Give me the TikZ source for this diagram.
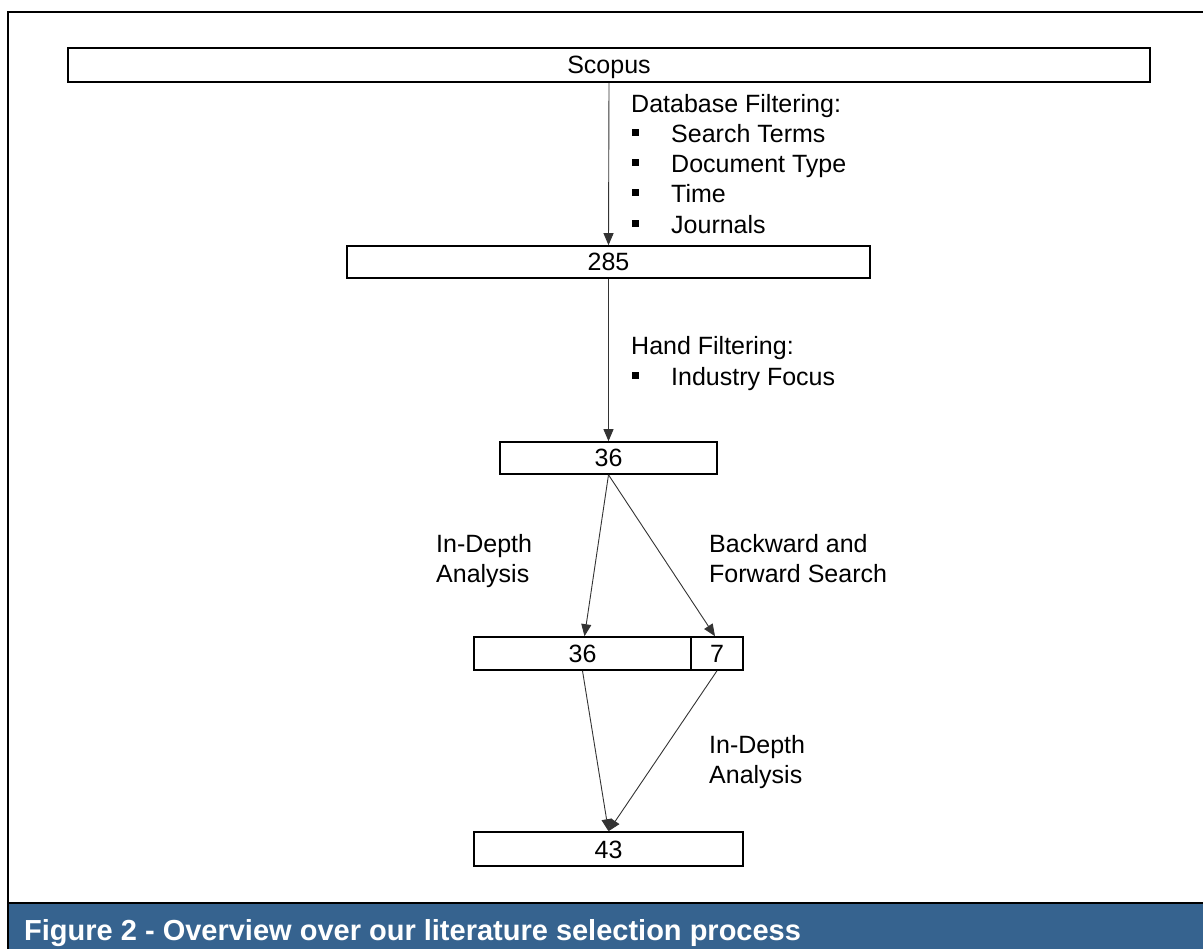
\documentclass[tikz,border=0pt]{standalone}
\usepackage{fontspec}
\setmainfont{Liberation Sans}
\usetikzlibrary{arrows.meta}
\definecolor{capblue}{RGB}{54,99,143}
\newcommand{\bul}{\makebox[39pt][l]{\rule[7pt]{6.5pt}{6.5pt}}}

\begin{document}
\begin{tikzpicture}[x=1pt,y=-1pt,
  box/.style={draw=black,line width=1.6pt,inner sep=0pt,fill=white,text height=18pt,text depth=0pt},
  lab/.style={anchor=base west,inner sep=0pt},
  arr/.style={draw=black!80,line width=0.9pt,-{Triangle[length=12pt,width=10pt]}},
  font=\fontsize{25}{30}\selectfont]
\useasboundingbox (0,0) rectangle (1203,949);
\clip (0,0) rectangle (1203,949);

% frame and caption bar
\fill [capblue] (8,903) rectangle (1210,949);
\draw [line width=2.6pt] (8,960) -- (8,12) -- (1215,12);
\draw [line width=2.6pt] (8,903) -- (1215,903);
\node [lab,text=white,font=\fontsize{29}{30}\selectfont\bfseries] (cap) at (24,940)
  {Figure 2 - Overview over our literature selection process};

% boxes
\node [box,minimum width=1082pt,minimum height=34pt] (scopus) at (609,65) {Scopus};
\node [box,minimum width=523pt,minimum height=32pt] (n285) at (608.5,262) {285};
\node [box,minimum width=217pt,minimum height=32pt] (n36) at (608.5,458) {36};
\node [box,minimum width=217pt,minimum height=33pt] (a36) at (582.5,653.5) {36};
\node [box,minimum width=52pt,minimum height=33pt] (b7) at (717,653.5) {7};
\node [box,minimum width=269pt,minimum height=34pt] (n43) at (608.5,849) {43};

% connectors
\draw [arr] (scopus.south) -- (n285.north);
\draw [arr] (n285.south) -- (n36.north);
\draw [arr] (n36.south) -- ([xshift=2pt]a36.north);
\draw [arr] (n36.south) -- ([xshift=-2pt]b7.north);
\draw [arr] (a36.south) -- (n43.north);
\draw [arr] (b7.south) -- (n43.north);

% labels
\node [lab] (db1) at (631,113) {Database Filtering:};
\node [lab] (db2) at (632,143) {\bul Search Terms};
\node [lab] (db3) at (632,173) {\bul Document Type};
\node [lab] (db4) at (632,203) {\bul Time};
\node [lab] (db5) at (632,234) {\bul Journals};
\node [lab] (hf1) at (631,355) {Hand Filtering:};
\node [lab] (hf2) at (632,386) {\bul Industry Focus};
\node [lab] (ia1) at (436,552) {In-Depth};
\node [lab] (ia2) at (436,583) {Analysis};
\node [lab] (bf1) at (709,552) {Backward and};
\node [lab] (bf2) at (709,583) {Forward Search};
\node [lab] (ib1) at (709,753) {In-Depth};
\node [lab] (ib2) at (709,783) {Analysis};

\end{tikzpicture}
\end{document}
